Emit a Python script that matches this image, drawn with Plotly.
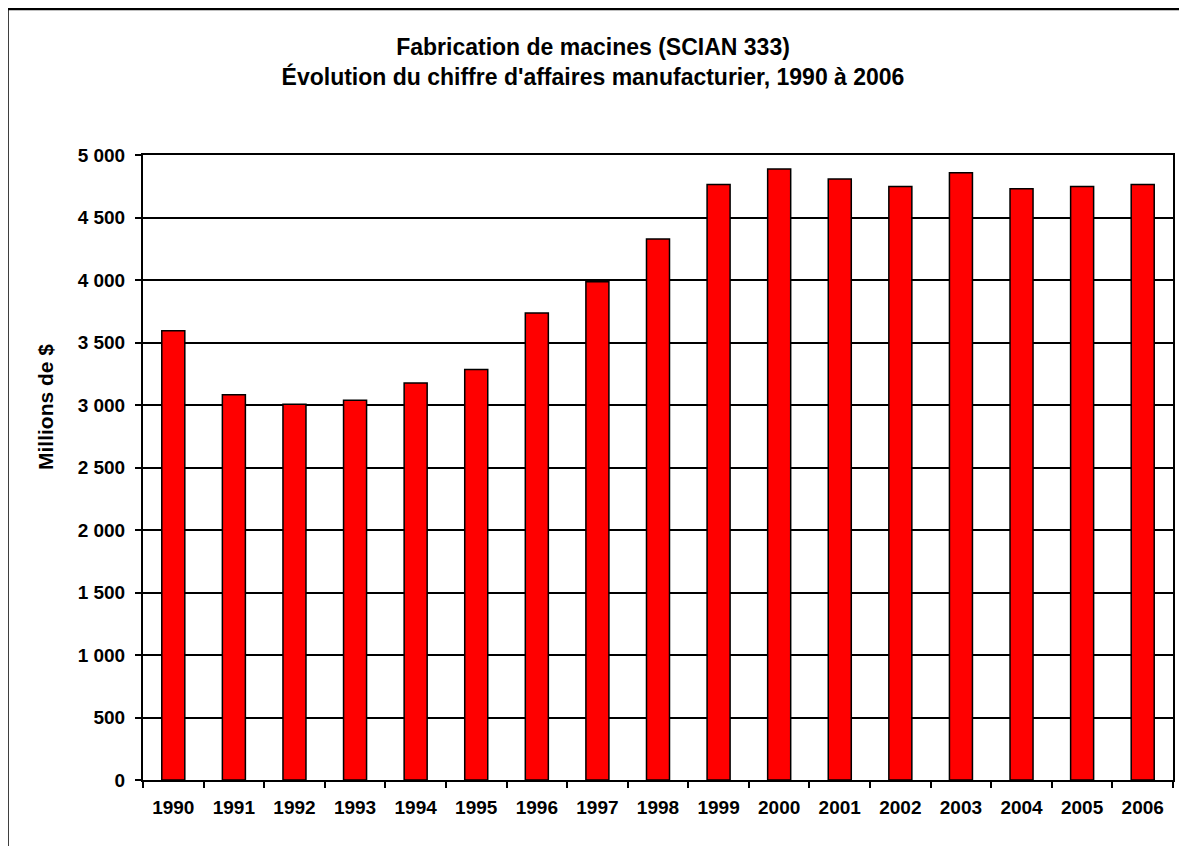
import plotly.graph_objects as go

years = ["1990", "1991", "1992", "1993", "1994", "1995", "1996", "1997", "1998",
         "1999", "2000", "2001", "2002", "2003", "2004", "2005", "2006"]
values = [3594, 3082, 3006, 3038, 3176, 3285, 3736, 3987, 4328,
          4765, 4888, 4808, 4749, 4859, 4730, 4749, 4765]
y_ticks = [0, 500, 1000, 1500, 2000, 2500, 3000, 3500, 4000, 4500, 5000]
y_tick_labels = ["0", "500", "1 000", "1 500", "2 000", "2 500", "3 000",
                 "3 500", "4 000", "4 500", "5 000"]

# page body has an 8px margin, so the figure is laid out 8px smaller
W, H = 1179, 838
L, R, T, B = 135, 14, 147, 66
pw, ph = W - L - R, H - T - B

FONT = "Liberation Sans, Arial, sans-serif"

fig = go.Figure(go.Bar(
    x=years, y=values,
    marker=dict(color="#FF0000", line=dict(color="black", width=1.5)),
))

def px_to_paper_x(px):
    return (px - L) / pw

def px_to_paper_y(py):
    return (H - B - py) / ph

fig.update_layout(
    width=W, height=H,
    margin=dict(l=L, r=R, t=T, b=B),
    paper_bgcolor="white", plot_bgcolor="white",
    bargap=0.62,
    showlegend=False,
    font=dict(family=FONT, color="black"),
    title=dict(
        text="Fabrication de macines (SCIAN 333)<br>Évolution du chiffre d'affaires manufacturier, 1990 à 2006",
        x=585 / W, xanchor="center", xref="container",
        y=1 - 47 / H, yanchor="middle",
        font=dict(family=FONT, size=23, color="black", weight="bold"),
    ),
    xaxis=dict(
        type="category",
        showline=True, linecolor="black", linewidth=2, mirror=True,
        ticks="outside", ticklen=6, tickwidth=1.5, tickcolor="black",
        tickson="boundaries",
        tickfont=dict(family=FONT, size=19, color="black", weight="bold"),
        ticklabelstandoff=9,
        showgrid=False,
    ),
    yaxis=dict(
        range=[0, 5000],
        tickvals=y_ticks, ticktext=y_tick_labels,
        showline=True, linecolor="black", linewidth=2, mirror=True,
        ticks="outside", ticklen=6, tickwidth=1.5, tickcolor="black",
        ticklabelstandoff=6,
        showgrid=True, gridcolor="black", gridwidth=1.5,
        tickfont=dict(family=FONT, size=19, color="black", weight="bold"),
        zeroline=False,
    ),
    annotations=[dict(
        text="Millions de $", textangle=-90,
        xref="paper", yref="paper",
        x=px_to_paper_x(37), y=px_to_paper_y(399),
        xanchor="center", yanchor="middle", showarrow=False,
        font=dict(family=FONT, size=21, color="black", weight="bold"),
    )],
    shapes=[dict(
        type="rect", xref="paper", yref="paper",
        x0=px_to_paper_x(-0.5), x1=px_to_paper_x(W + 20),
        y0=px_to_paper_y(H + 20), y1=px_to_paper_y(1),
        line=dict(color="black", width=2.5), fillcolor="rgba(0,0,0,0)",
        layer="below",
    )],
)

fig.write_html("out.html")
